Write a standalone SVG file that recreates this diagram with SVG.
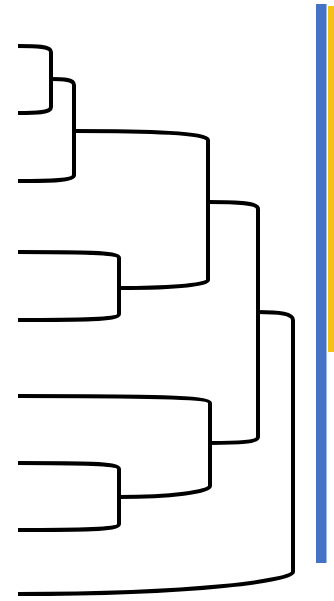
<svg xmlns="http://www.w3.org/2000/svg" width="334" height="601" viewBox="0 0 334 601">
<style>
.l{fill:none;stroke:#000;stroke-width:4;stroke-linecap:butt;stroke-linejoin:round}
</style>
<rect width="334" height="601" fill="#fff"/>
<g id="connectors">
<path class="l" d="M18,46 C36,46 51,46 51,52 L51,107 C51,113 36,113 18,113"/>
<path class="l" d="M51,79 C62,79 74,79 74,85 L74,175 C74,181 50,181 18,181"/>
<path class="l" d="M18,252 C80,252 119,252 119,258 L119,314 C119,320 80,320 18,320"/>
<path class="l" d="M74,131 C150,131 208,133 208,140 L208,280 C208,286 160,288 119,288"/>
<path class="l" d="M208,202 C240,202 258,203 258,209 L258,437 C258,442 240,443 210,443"/>
<path class="l" d="M18,463 C80,463 119,463 119,469 L119,524 C119,530 80,530 18,530"/>
<path class="l" d="M18,396 C150,396 210,397 210,403 L210,486 C210,492 170,497 119,497"/>
<path class="l" d="M258,312 C280,312 293,314 293,320 L293,572 C293,580 200,594 18,594"/>
</g>
<g id="bar-blue"><rect x="316" y="4" width="10.5" height="559" fill="#4472C4"/></g>
<g id="bar-yellow"><rect x="328" y="6" width="6" height="346" fill="#F2C314"/></g>
</svg>
